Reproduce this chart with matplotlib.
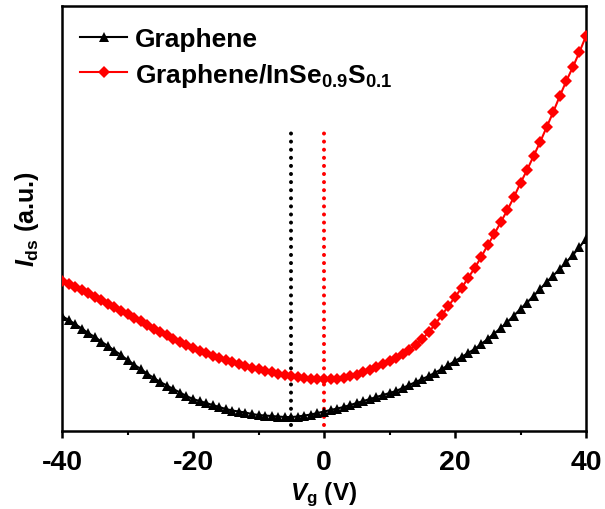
import matplotlib
matplotlib.use("Agg")
import matplotlib.pyplot as plt
import numpy as np

plt.rcParams['font.family'] = ['Liberation Sans', 'DejaVu Sans']
plt.rcParams['font.weight'] = 'bold'
plt.rcParams['mathtext.fontset'] = 'custom'
plt.rcParams['mathtext.rm'] = 'Liberation Sans:bold'
plt.rcParams['mathtext.it'] = 'Liberation Sans:italic:bold'
plt.rcParams['mathtext.bf'] = 'Liberation Sans:bold'

# Gate voltage (V)
vg = list(range(-40, 41))

# Graphene I_ds (a.u.)
ids_graphene = [115, 111, 107, 102.5, 98, 94, 89.5, 85, 80.5, 76,
                71, 66.5, 62, 57.5, 53, 49, 45.5, 42, 38.5, 35,
                32, 30, 28, 26, 24, 22, 20.5, 19.5, 18.5, 17,
                16, 15.5, 15, 14.5, 14, 14, 14.5, 15.5, 16.5, 18,
                19.5, 21, 22.5, 24, 26, 28, 30, 32, 34, 36,
                38, 40, 43, 46, 49, 52, 55, 58.5, 62, 66,
                70, 74, 78, 82, 87, 92, 97.5, 103, 109, 115.5,
                122, 128.5, 135, 142, 149, 155.5, 162, 169, 176, 184,
                192]

# Graphene/InSe0.9S0.1 I_ds (a.u.)
ids_hetero = [150, 147, 144, 141, 138, 134.5, 131, 127.5, 124, 120.5,
              117, 113.5, 110, 106, 102.5, 99, 96, 92.5, 89.5, 86,
              83, 80.5, 78, 75.5, 73, 71, 69, 67, 65, 63.5,
              62, 60.5, 59, 57.5, 56, 55, 54, 53, 52.5, 52,
              52, 52, 52.5, 53, 55, 56, 59, 61, 64, 67,
              70, 73, 77, 81, 86, 92, 99, 107, 116, 125,
              134, 143, 153, 163, 174, 186, 197, 209, 221, 234,
              248, 261, 275, 289, 304, 319, 335, 350, 364, 379,
              395]

# Dirac points (V)
dirac_graphene = -5
dirac_hetero = 0
dirac_line_range = (6, 302)

xticks = [-40, -20, 0, 20, 40]
xminor = [-30, -10, 10, 30]

fig = plt.figure(figsize=(6.05, 5.10), dpi=100)
ax = fig.add_axes([0.1025, 0.1529, 0.8661, 0.8334])

ax.plot(vg, ids_graphene, color='black', lw=1.5, marker='^', ms=7.5,
        markeredgewidth=0, label='Graphene', zorder=3)
ax.plot(vg, ids_hetero, color='#ff0000', lw=1.5, marker='D', ms=6.3,
        markeredgewidth=0, label='Graphene/InSe$_{0.9}$S$_{0.1}$', zorder=3)

for xv, c in [(dirac_graphene, 'black'), (dirac_hetero, '#ff0000')]:
    ax.plot([xv, xv], dirac_line_range, color=c, lw=2.9,
            linestyle=(0, (0.01, 2.0)), dash_capstyle='round', zorder=2)

ax.set_xlim(-40, 40)
ax.set_ylim(0, 425)
ax.set_xticks(xticks)
ax.set_xticks(xminor, minor=True)
ax.set_xticklabels([str(t) for t in xticks])
ax.set_yticks([])
ax.tick_params(axis='x', which='major', direction='out', length=5, width=1.8,
               labelsize=20.5, pad=8)
ax.tick_params(axis='x', which='minor', direction='out', length=3, width=1.5)
for s in ax.spines.values():
    s.set_linewidth(1.8)

ax.set_xlabel(r'$\mathit{V}_{\mathrm{g}}$ (V)', fontsize=17.5, fontweight='bold', labelpad=3)
ax.set_ylabel(r'$\mathit{I}_{\mathrm{ds}}$ (a.u.)', fontsize=18, fontweight='bold', labelpad=15)

leg = ax.legend(loc='upper left', frameon=False, fontsize=19, handlelength=1.75,
                handletextpad=0.3, borderaxespad=0.3, labelspacing=0.35,
                bbox_to_anchor=(0.0, 0.993))
for t in leg.get_texts():
    t.set_fontweight('bold')

fig.savefig('out.png', dpi=100)
